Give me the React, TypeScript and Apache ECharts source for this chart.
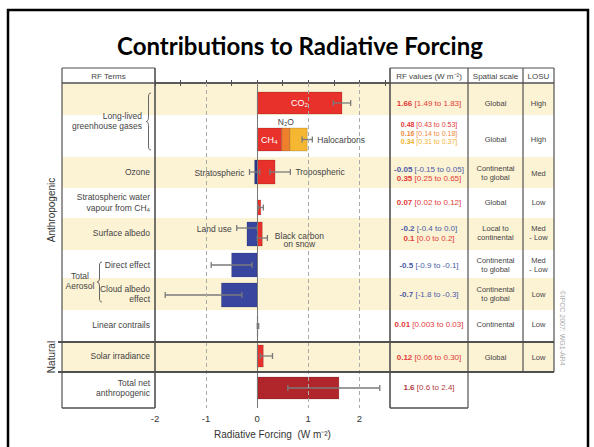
import { useEffect, useRef } from 'react';
import * as echarts from 'echarts';

// ---- forcing components (W m-2) ----
const components = [
  'CO₂', 'CH₄', 'N₂O', 'Halocarbons', 'Stratospheric ozone', 'Tropospheric ozone',
  'Stratospheric water vapour', 'Land use', 'Black carbon on snow', 'Direct effect',
  'Cloud albedo effect', 'Linear contrails', 'Solar irradiance', 'Total net anthropogenic',
];
const rowOf = [0, 1, 1, 1, 2, 2, 3, 4, 4, 5, 6, 7, 8, 9];
const bestText = ['1.66', '0.48', '0.16', '0.34', '-0.05', '0.35', '0.07', '-0.2', '0.1', '-0.5', '-0.7', '0.01', '0.12', '1.6'];
const lowText = ['1.49', '0.43', '0.14', '0.31', '-0.15', '0.25', '0.02', '-0.4', '0.0', '-0.9', '-1.8', '0.003', '0.06', '0.6'];
const highText = ['1.83', '0.53', '0.18', '0.37', '0.05', '0.65', '0.12', '0.0', '0.2', '-0.1', '-0.3', '0.03', '0.30', '2.4'];
const barLabel = ['CO₂', 'CH₄', 'N₂O', 'Halocarbons', 'Stratospheric', 'Tropospheric', '', 'Land use', 'Black carbon\non snow', '', '', '', '', ''];
const barLabelPlace = ['inside', 'inside', 'above', 'right', 'left', 'right', '', 'left', 'right', '', '', '', '', ''];

// ---- table columns ----
const rfTerms = ['', '', 'Ozone', 'Stratospheric water\nvapour from CH₄', 'Surface albedo', 'Direct effect', 'Cloud albedo\neffect', 'Linear contrails', 'Solar irradiance', 'Total net\nanthropogenic'];
const spatialScale = ['Global', 'Global', 'Continental\nto global', 'Global', 'Local to\ncontinental', 'Continental\nto global', 'Continental\nto global', 'Continental', 'Global', ''];
const losu = ['High', 'High', 'Med', 'Low', 'Med\n- Low', 'Med\n- Low', 'Low', 'Low', 'Low', ''];
const xLabels = [-2, -1, 0, 1, 2];
const xTicks = [-2, -1.5, -1, -0.5, 0, 0.5, 1, 1.5, 2, 2.5];

const best = bestText.map(Number);
const low = lowText.map(Number);
const high = highText.map(Number);

// ---- layout ----
const FONT = '"Liberation Sans", Arial, Helvetica, sans-serif';
const ROW_H = [32, 42, 31, 30, 32, 28, 32, 32, 30, 36];
const ROW_TOP = ROW_H.reduce<number[]>((acc, h) => { acc.push(acc[acc.length - 1] + h); return acc; }, [0]);
const Y_MAX = ROW_TOP[ROW_TOP.length - 1];
const BAR_BAND = [[9, 31], [13, 36], [3, 27], [12, 27], [4, 28], [3, 27], [5, 29], [6, 26], [3, 25], [5, 27]];
const ERR_SHIFT = [0, 0, 0, 0, 0, 0, 0, -6, 4, 0, 0, 0, 0, 0];
const TEXT_MID = [20, 18, 17, 14, 15, 15, 16, 14, 15, 15];
const SCALE_MID = [20, 24, 16, 14, 15, 15, 16, 14, 15, 15];
const TERM_MID = [0, 0, 15, 14.5, 14.7, 15, 15.8, 15, 13.7, 16];
const LINE_GAP = [10, 8.4, 9.5, 10, 10, 10, 10, 10, 10, 10];

const G_LEFT = 155, G_RIGHT = 390, G_TOP = 83, G_BOTTOM = 408;
const TERM_L = 62, VAL_R = 468, SPA_R = 523, LOSU_R = 554, HEAD_TOP = 68;
const NAT_TOP = G_TOP + ROW_TOP[8], NAT_BOT = G_TOP + ROW_TOP[9];

const BAR_COLOR = ['#e8312b', '#e8312b', '#f07f2c', '#f5b731', '#2c3a8f', '#e8312b', '#e8312b', '#3946a0', '#e8312b', '#3946a0', '#3946a0', '#e8312b', '#e8312b', '#b1262b'];
const TEXT_COLOR = ['#e23a36', '#e23a36', '#ee8a3e', '#efb22c', '#4a5ba6', '#e23a36', '#e23a36', '#4a5ba6', '#e23a36', '#4a5ba6', '#4a5ba6', '#e23a36', '#e23a36', '#b2393c'];
const BAND = '#fcf2d4';
const LINE = '#505050';
const INK = '#444';

// stacked start of each segment within its row (same-sign stacking)
const base = best.map((v, i) => {
  let s = 0;
  for (let j = 0; j < i; j++) if (rowOf[j] === rowOf[i] && Math.sign(best[j]) === Math.sign(v)) s += best[j];
  return s;
});
const stackMembers = (i: number) => best.map((_, j) => j).filter((j) => rowOf[j] === rowOf[i] && Math.sign(best[j]) === Math.sign(best[i]));
const errRange = best.map((_, i) => {
  const m = stackMembers(i);
  if (m.length === 1) return [low[i], high[i]];
  if (m[m.length - 1] !== i) return null;
  return [m.reduce((s, j) => s + low[j], 0), m.reduce((s, j) => s + high[j], 0)];
});

function bracePath(h: number, w: number) {
  const m = h / 2, c = w * 0.5;
  return `M ${w} 0 C ${c} 0 ${c} 2 ${c} 5 L ${c} ${m - 4} C ${c} ${m - 1} ${w * 0.25} ${m} 0 ${m} C ${w * 0.25} ${m} ${c} ${m + 1} ${c} ${m + 4} L ${c} ${h - 5} C ${c} ${h - 2} ${c} ${h} ${w} ${h}`;
}
echarts.graphic.registerShape('braceGhg', echarts.graphic.extendPath(bracePath(57, 5), {}));
echarts.graphic.registerShape('braceAer', echarts.graphic.extendPath(bracePath(40, 5), {}));

const hLine = (x1: number, x2: number, y: number, w = 1.2) => ({ type: 'line', z: 10, shape: { x1, y1: y, x2, y2: y }, style: { stroke: LINE, lineWidth: w } });
const vLine = (x: number, y1: number, y2: number, w = 1.2) => ({ type: 'line', z: 10, shape: { x1: x, y1, x2: x, y2 }, style: { stroke: LINE, lineWidth: w } });
const txt = (x: number, y: number, text: string, o: any = {}) => ({
  type: 'text', z: 11, x, y,
  style: { text, fill: INK, fontSize: 8.5, fontFamily: FONT, align: 'center', verticalAlign: 'middle', lineHeight: 10, ...o },
});

function buildGraphics() {
  const g: any[] = [];
  // outer frame and title
  g.push({ type: 'rect', z: 12, shape: { x: 8, y: 10, width: 580, height: 460 }, style: { fill: 'none', stroke: '#000', lineWidth: 2.5 } });
  g.push(txt(300, 45, 'Contributions to Radiative Forcing', { fontSize: 24, fontWeight: 'bold', fontFamily: 'Lato, "Open Sans", sans-serif', fill: '#000', lineHeight: 28 }));

  // alternating row bands
  ROW_H.forEach((h, r) => {
    if (r % 2 === 0) g.push({ type: 'rect', z: -1, shape: { x: TERM_L, y: G_TOP + ROW_TOP[r], width: LOSU_R - TERM_L, height: h }, style: { fill: BAND } });
  });

  // header cells
  g.push({ type: 'rect', z: 9, shape: { x: TERM_L, y: HEAD_TOP, width: G_LEFT - TERM_L, height: G_TOP - HEAD_TOP }, style: { fill: '#fff' } });
  g.push(txt((TERM_L + G_LEFT) / 2, 76, 'RF Terms', { fontSize: 8 }));
  g.push(txt((G_RIGHT + VAL_R) / 2, 76, 'RF values (W m⁻²)', { fontSize: 8 }));
  g.push(txt((VAL_R + SPA_R) / 2, 76, 'Spatial scale', { fontSize: 8 }));
  g.push(txt((SPA_R + LOSU_R) / 2, 76, 'LOSU', { fontSize: 8 }));

  // table rules
  g.push(hLine(TERM_L, G_LEFT, HEAD_TOP), hLine(G_RIGHT, LOSU_R, HEAD_TOP));
  g.push(hLine(TERM_L, G_LEFT, G_TOP, 1.5), hLine(G_RIGHT, LOSU_R, G_TOP, 1.5));
  g.push(hLine(58, LOSU_R, NAT_TOP, 1.8), hLine(58, LOSU_R, NAT_BOT, 1.8));
  g.push(hLine(TERM_L, G_LEFT, G_BOTTOM, 1.5), hLine(G_RIGHT, VAL_R, G_BOTTOM, 1.5));
  g.push(vLine(TERM_L, HEAD_TOP, G_BOTTOM), vLine(G_LEFT, HEAD_TOP, G_BOTTOM, 1.6), vLine(G_RIGHT, HEAD_TOP, G_BOTTOM, 1.6));
  g.push(vLine(VAL_R, HEAD_TOP, G_BOTTOM), vLine(SPA_R, HEAD_TOP, NAT_BOT), vLine(LOSU_R, HEAD_TOP, NAT_BOT));

  // RF term labels
  rfTerms.forEach((t, r) => {
    if (t) g.push(txt(150, G_TOP + ROW_TOP[r] + TERM_MID[r], t, { align: 'right', lineHeight: 10.5 }));
  });
  g.push(txt(142, 121, 'Long-lived\ngreenhouse gases', { align: 'right', lineHeight: 10.5 }));
  g.push({ type: 'braceGhg', z: 11, x: 146, y: 93, style: { fill: 'none', stroke: '#666', lineWidth: 1 } });
  g.push(txt(80, 281, 'Total\nAerosol', { lineHeight: 9.5 }));
  g.push({ type: 'braceAer', z: 11, x: 97, y: 262, style: { fill: 'none', stroke: '#666', lineWidth: 1 } });

  // group labels
  g.push({ ...txt(51, 210, 'Anthropogenic', { fontSize: 10, fill: '#333' }), rotation: Math.PI / 2 });
  g.push({ ...txt(51, 357, 'Natural', { fontSize: 10, fill: '#333' }), rotation: Math.PI / 2 });

  // RF values column: one block of coloured lines per row
  for (let r = 0; r < ROW_H.length; r++) {
    const members = components.map((_, i) => i).filter((i) => rowOf[i] === r);
    const fs = members.length > 2 ? 7 : 8;
    const lh = LINE_GAP[r];
    const rich: Record<string, any> = {};
    const lines = members.map((i) => {
      rich[`b${i}`] = { fontWeight: 'bold', fill: TEXT_COLOR[i], fontSize: fs, fontFamily: FONT, lineHeight: lh };
      rich[`n${i}`] = { fill: TEXT_COLOR[i], fontSize: fs, fontFamily: FONT, lineHeight: lh };
      return `{b${i}|${bestText[i]}} {n${i}|[${lowText[i]} to ${highText[i]}]}`;
    });
    g.push(txt((G_RIGHT + VAL_R) / 2, G_TOP + ROW_TOP[r] + TEXT_MID[r], lines.join('\n'), { fontSize: fs, lineHeight: lh, rich }));
    if (spatialScale[r]) g.push(txt((VAL_R + SPA_R) / 2, G_TOP + ROW_TOP[r] + SCALE_MID[r], spatialScale[r], { fontSize: 7.5, lineHeight: 9.5 }));
    if (losu[r]) g.push(txt((SPA_R + LOSU_R) / 2, G_TOP + ROW_TOP[r] + SCALE_MID[r], losu[r], { fontSize: 7.5, lineHeight: 9.5 }));
  }

  // source note
  g.push({ ...txt(562, 328, '©IPCC 2007: WG1-AR4', { fontSize: 7, fill: '#aaa' }), rotation: -Math.PI / 2 });
  return g;
}

function renderComponent(params: any, api: any) {
  const i = params.dataIndex;
  const r = rowOf[i];
  const top = ROW_TOP[r] + BAR_BAND[r][0];
  const bot = ROW_TOP[r] + BAR_BAND[r][1];
  const a = api.coord([base[i], top]);
  const b = api.coord([base[i] + best[i], bot]);
  const children: any[] = [{
    type: 'rect',
    shape: { x: Math.min(a[0], b[0]), y: a[1], width: Math.max(Math.abs(b[0] - a[0]), 0.8), height: b[1] - a[1] },
    style: { fill: BAR_COLOR[i], stroke: 'rgba(0,0,0,0.25)', lineWidth: 0.6 },
  }];
  const midY = (top + bot) / 2 + ERR_SHIFT[i];
  const err = errRange[i];
  let lo: number[] | null = null, hi: number[] | null = null;
  if (err) {
    lo = api.coord([err[0], midY]);
    hi = api.coord([err[1], midY]);
    const es = { stroke: '#7a7a7a', lineWidth: 1.3 };
    children.push(
      { type: 'line', z2: 10, shape: { x1: lo[0], y1: lo[1], x2: hi[0], y2: hi[1] }, style: es },
      { type: 'line', z2: 10, shape: { x1: lo[0], y1: lo[1] - 3, x2: lo[0], y2: lo[1] + 3 }, style: es },
      { type: 'line', z2: 10, shape: { x1: hi[0], y1: hi[1] - 3, x2: hi[0], y2: hi[1] + 3 }, style: es },
    );
  }
  const label = barLabel[i];
  const place = barLabelPlace[i];
  const ts = { fontSize: 8.5, fontFamily: FONT, fill: INK, verticalAlign: 'middle', lineHeight: 8.5 };
  if (label && place === 'inside') {
    children.push({ type: 'text', z2: 11, x: (a[0] + b[0]) / 2, y: (a[1] + b[1]) / 2, style: { ...ts, text: label, fill: '#fff', fontSize: 9, align: 'center' } });
  } else if (label && place === 'above') {
    children.push({ type: 'text', z2: 11, x: (a[0] + b[0]) / 2, y: a[1] - 6, style: { ...ts, text: label, align: 'center' } });
  } else if (label && place === 'left') {
    const [px, py] = lo || [Math.min(a[0], b[0]), (a[1] + b[1]) / 2];
    children.push({ type: 'text', z2: 11, x: px - 5, y: py + 1, style: { ...ts, text: label, align: 'right' } });
  } else if (label && place === 'right') {
    const [px, py] = hi || [Math.max(a[0], b[0]), (a[1] + b[1]) / 2];
    const multi = label.includes('\n');
    children.push({ type: 'text', z2: 11, x: multi ? px + 32 : px + 5, y: py + (multi ? 2 : 0), style: { ...ts, text: label, align: multi ? 'center' : 'left' } });
  }
  return { type: 'group', children };
}

export default function App() {
  const ref = useRef<HTMLDivElement>(null);
  useEffect(() => {
    if (!ref.current) return;
    const chart = echarts.init(ref.current, undefined, { renderer: 'svg' });
    const axisLine = { show: true, lineStyle: { color: LINE, width: 1.5 } };
    const axisTick = { show: true, inside: true, length: 3, customValues: xTicks, lineStyle: { color: LINE, width: 1 } };
    chart.setOption({
      animation: false,
      backgroundColor: '#fff',
      grid: { left: G_LEFT, top: G_TOP, width: G_RIGHT - G_LEFT, height: G_BOTTOM - G_TOP, containLabel: false },
      xAxis: [
        {
          type: 'value', position: 'bottom', min: -2, max: 2.6,
          axisLine, axisTick,
          axisLabel: { customValues: xLabels, fontSize: 9.5, color: '#333', fontFamily: FONT, margin: 5 },
          splitLine: { show: false },
          name: 'Radiative Forcing  (W m⁻²)', nameLocation: 'middle', nameGap: 21,
          nameTextStyle: { fontSize: 10, color: '#333', fontFamily: FONT },
        },
        {
          type: 'value', position: 'top', min: -2, max: 2.6,
          axisLine, axisTick, axisLabel: { show: false }, splitLine: { show: false },
        },
      ],
      yAxis: { type: 'value', inverse: true, min: 0, max: Y_MAX, show: false },
      series: [
        {
          type: 'line', data: [], z: 1, silent: true,
          markLine: {
            silent: true, symbol: 'none', label: { show: false },
            lineStyle: { color: '#aaa', type: [4, 3], width: 1 },
            data: [
              { xAxis: -1 },
              { xAxis: 0, lineStyle: { color: '#777', type: 'solid', width: 1 } },
              { xAxis: 1 },
              { xAxis: 2 },
            ],
          },
        },
        {
          type: 'custom', z: 3, silent: true,
          data: components.map((_, i) => [best[i], ROW_TOP[rowOf[i]]]),
          encode: { x: 0, y: 1 },
          renderItem: renderComponent,
        },
      ],
      graphic: { elements: buildGraphics() },
    });
    return () => chart.dispose();
  }, []);
  return <div ref={ref} style={{ position: 'fixed', left: 0, top: 0, width: 594, height: 447, background: '#fff' }} />;
}
